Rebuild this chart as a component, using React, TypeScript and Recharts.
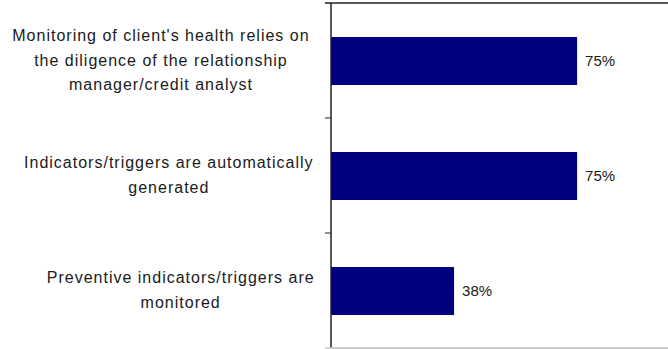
import React from 'react';
import { BarChart, Bar, XAxis, YAxis, LabelList } from 'recharts';

const categories: string[][] = [
  ["Monitoring of client's health relies on", 'the diligence of the relationship', 'manager/credit analyst'],
  ['Indicators/triggers are automatically', 'generated'],
  ['Preventive indicators/triggers are', 'monitored'],
];
const values: number[] = [75, 75, 37.5];

const data = categories.map((lines, i) => ({ name: lines.join('\n'), value: values[i] }));

const CHART_W = 668;
const CHART_H = 349;
const FONT = '"Liberation Sans", Arial, sans-serif';
const CHAR_W = 7.9;
const LINE_H = 24.5;
const TEXT_RIGHT_GAP = 16;

const CategoryTick = (props: any) => {
  const { x, y, payload, index, visibleTicksCount, height } = props;
  const lines: string[] = String(payload.value).split('\n');
  const maxChars = Math.max(...lines.map((l) => l.length));
  const cx = x - TEXT_RIGHT_GAP - (maxChars * CHAR_W) / 2;
  const half = payload.offset ?? height / (visibleTicksCount || 3) / 2;
  const startY = y - 1 - ((lines.length - 1) * LINE_H) / 2;
  const isFirst = index === 0;
  const isLast = index === (visibleTicksCount || 3) - 1;
  return (
    <g>
      <text
        x={cx}
        y={startY}
        textAnchor="middle"
        dominantBaseline="central"
        fontFamily={FONT}
        fontSize={16}
        letterSpacing={1}
        fill="#1a1a1a"
      >
        {lines.map((l, i) => (
          <tspan key={i} x={cx} y={startY + i * LINE_H}>
            {l}
          </tspan>
        ))}
      </text>
      <line
        x1={x - 6}
        x2={isFirst ? CHART_W : x}
        y1={y - half}
        y2={y - half}
        stroke="#222"
        strokeWidth={isFirst ? 1.5 : 1}
      />
      {isLast && (
        <line x1={x - 6} x2={CHART_W} y1={y + half} y2={y + half} stroke="#c8c8c8" strokeWidth={1.5} />
      )}
    </g>
  );
};

export default function App() {
  return (
    <div style={{ position: 'absolute', left: 0, top: 0, background: '#fff' }}>
      <BarChart
        width={CHART_W}
        height={CHART_H}
        data={data}
        layout="vertical"
        margin={{ top: 3, right: 0, bottom: 0, left: 0 }}
      >
        <XAxis
          xAxisId="bottom"
          orientation="bottom"
          type="number"
          domain={[0, 102.7]}
          height={1}
          tick={false}
          tickLine={false}
          axisLine={{ stroke: '#c8c8c8', strokeWidth: 1.5 }}
        />
        <YAxis
          type="category"
          dataKey="name"
          width={331}
          tickSize={0}
          tickMargin={0}
          tickLine={false}
          axisLine={{ stroke: '#222', strokeWidth: 1.5 }}
          tick={<CategoryTick />}
          interval={0}
        />
        <Bar xAxisId="bottom" dataKey="value" fill="#000080" barSize={48} isAnimationActive={false}>
          <LabelList
            dataKey="value"
            position="right"
            offset={8}
            formatter={(v: any) => `${Math.round(Number(v))}%`}
            style={{ fontFamily: FONT, fontSize: 15, fill: '#1a1a1a' }}
          />
        </Bar>
      </BarChart>
    </div>
  );
}
